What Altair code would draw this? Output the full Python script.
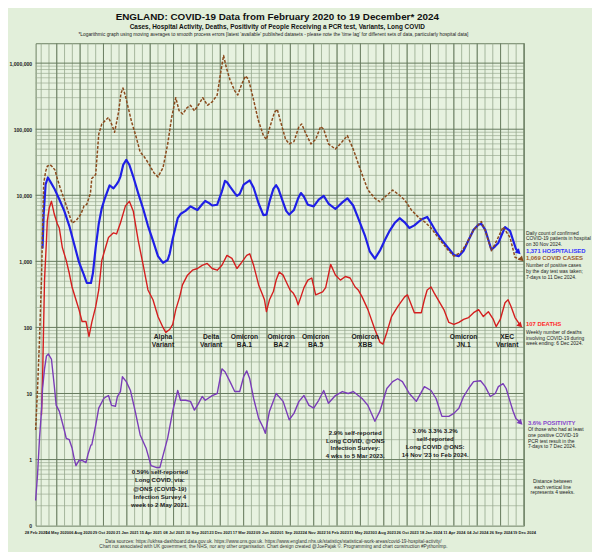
import altair as alt
import pandas as pd

FONT = "Liberation Sans"
PAGE_BG = "#e2efda"
PLOT_BG = "#e7f2e0"
TXT = "#1c1c1c"

# ---------------- data ----------------
hospital = [
    ("2020-03-24", 1560), ("2020-03-28", 5200), ("2020-04-04", 14600), ("2020-04-12", 18600),
    ("2020-04-22", 15800), ("2020-05-05", 12700), ("2020-05-23", 8700), ("2020-06-10", 5800),
    ("2020-06-28", 3450), ("2020-07-15", 1860), ("2020-08-02", 970), ("2020-08-20", 620),
    ("2020-08-30", 470), ("2020-09-14", 470), ("2020-09-21", 660), ("2020-10-01", 1620),
    ("2020-10-12", 3700), ("2020-10-23", 6400), ("2020-11-03", 9000), ("2020-11-20", 14100),
    ("2020-12-04", 12700), ("2020-12-15", 14600), ("2020-12-22", 16200), ("2020-12-29", 19200),
    ("2021-01-08", 29000), ("2021-01-19", 34400), ("2021-01-30", 29000), ("2021-02-13", 19200),
    ("2021-03-03", 10700), ("2021-03-21", 6200), ("2021-04-07", 3450), ("2021-04-25", 2060),
    ("2021-05-13", 1200), ("2021-05-31", 950), ("2021-06-17", 1050), ("2021-06-24", 1300),
    ("2021-07-05", 2200), ("2021-07-23", 4500), ("2021-08-02", 5200), ("2021-08-20", 5800),
    ("2021-09-07", 6800), ("2021-09-21", 6300), ("2021-10-02", 6000), ("2021-10-19", 7300),
    ("2021-10-30", 8200), ("2021-11-13", 7600), ("2021-11-24", 7000), ("2021-12-12", 7200),
    ("2021-12-29", 11500), ("2022-01-09", 16500), ("2022-01-16", 15800), ("2022-01-27", 13500),
    ("2022-02-13", 10800), ("2022-02-21", 9800), ("2022-03-03", 10500), ("2022-03-17", 14500),
    ("2022-04-08", 16800), ("2022-04-22", 13000), ("2022-05-10", 7500), ("2022-05-27", 5000),
    ("2022-06-07", 5100), ("2022-06-18", 8000), ("2022-07-02", 12500), ("2022-07-12", 14200),
    ("2022-07-20", 12500), ("2022-08-06", 7800), ("2022-08-17", 5800), ("2022-08-28", 5100),
    ("2022-09-14", 6000), ("2022-09-29", 9000), ("2022-10-09", 10800), ("2022-10-20", 9500),
    ("2022-11-03", 7200), ("2022-11-24", 6800), ("2022-12-12", 8600), ("2022-12-30", 9800),
    ("2023-01-16", 7500), ("2023-02-10", 6200), ("2023-03-07", 7800), ("2023-03-25", 9000),
    ("2023-04-15", 7000), ("2023-05-03", 4500), ("2023-05-28", 2400), ("2023-06-14", 1400),
    ("2023-07-02", 1100), ("2023-07-20", 1450), ("2023-08-07", 2100), ("2023-08-24", 2900),
    ("2023-09-11", 3800), ("2023-09-29", 4500), ("2023-10-17", 3900), ("2023-11-03", 3200),
    ("2023-11-21", 3500), ("2023-12-16", 4300), ("2024-01-06", 4700), ("2024-01-20", 3800),
    ("2024-02-07", 2800), ("2024-02-28", 2100), ("2024-03-24", 1550), ("2024-04-11", 1250),
    ("2024-04-29", 1200), ("2024-05-16", 1450), ("2024-06-03", 2100), ("2024-06-21", 3000),
    ("2024-07-09", 3600), ("2024-07-19", 3700), ("2024-08-02", 3000), ("2024-08-24", 1500),
    ("2024-09-07", 1700), ("2024-09-18", 1900), ("2024-10-12", 3300), ("2024-10-30", 2900),
    ("2024-11-20", 1550), ("2024-11-30", 1371),
]

cases = [
    ("2020-02-28", 2.8), ("2020-03-06", 12), ("2020-03-13", 66), ("2020-03-20", 520),
    ("2020-03-24", 3000), ("2020-03-28", 15000), ("2020-04-04", 22800), ("2020-04-10", 27500),
    ("2020-04-20", 29000), ("2020-04-28", 27000), ("2020-05-08", 24000), ("2020-05-14", 19000),
    ("2020-05-27", 12700), ("2020-06-10", 8700), ("2020-06-20", 6400), ("2020-07-08", 3800),
    ("2020-07-22", 4100), ("2020-08-09", 5200), ("2020-08-20", 6900), ("2020-08-30", 7300),
    ("2020-09-12", 10700), ("2020-09-17", 17900), ("2020-10-01", 20600), ("2020-10-12", 84000),
    ("2020-10-23", 120000), ("2020-11-16", 151000), ("2020-11-27", 120000), ("2020-12-08", 90000),
    ("2020-12-22", 179000), ("2020-12-31", 350000), ("2021-01-07", 420000), ("2021-01-15", 330000),
    ("2021-01-25", 220000), ("2021-02-07", 130000), ("2021-02-24", 75000), ("2021-03-10", 45000),
    ("2021-03-25", 38000), ("2021-04-10", 30000), ("2021-04-28", 22000), ("2021-05-13", 19000),
    ("2021-05-31", 26000), ("2021-06-17", 60000), ("2021-07-01", 150000), ("2021-07-16", 300000),
    ("2021-07-28", 190000), ("2021-08-10", 170000), ("2021-08-25", 210000), ("2021-09-07", 230000),
    ("2021-09-21", 190000), ("2021-10-10", 250000), ("2021-10-21", 300000), ("2021-11-07", 230000),
    ("2021-11-24", 260000), ("2021-12-12", 330000), ("2021-12-24", 700000), ("2022-01-04", 1300000),
    ("2022-01-14", 850000), ("2022-01-27", 560000), ("2022-02-13", 380000), ("2022-02-24", 330000),
    ("2022-03-10", 480000), ("2022-03-24", 640000), ("2022-04-04", 560000), ("2022-04-20", 300000),
    ("2022-05-08", 140000), ("2022-05-27", 80000), ("2022-06-07", 70000), ("2022-06-20", 110000),
    ("2022-07-06", 180000), ("2022-07-16", 200000), ("2022-07-28", 130000), ("2022-08-15", 70000),
    ("2022-08-28", 60000), ("2022-09-14", 65000), ("2022-10-02", 110000), ("2022-10-12", 120000),
    ("2022-10-27", 85000), ("2022-11-14", 60000), ("2022-12-01", 70000), ("2022-12-19", 110000),
    ("2022-12-30", 100000), ("2023-01-16", 60000), ("2023-02-10", 50000), ("2023-03-07", 65000),
    ("2023-03-25", 80000), ("2023-04-15", 50000), ("2023-05-10", 25000), ("2023-06-07", 12000),
    ("2023-07-02", 9000), ("2023-07-20", 8000), ("2023-08-14", 10000), ("2023-09-04", 12000),
    ("2023-09-29", 10000), ("2023-10-17", 8500), ("2023-11-10", 6000), ("2023-12-09", 4500),
    ("2023-12-27", 4000), ("2024-01-20", 3200), ("2024-02-18", 2200), ("2024-03-20", 1500),
    ("2024-04-11", 1200), ("2024-05-05", 1350), ("2024-05-25", 1800), ("2024-06-21", 3000),
    ("2024-07-19", 4000), ("2024-08-02", 2900), ("2024-08-24", 1450), ("2024-09-07", 1860),
    ("2024-10-05", 3300), ("2024-10-30", 2300), ("2024-11-17", 1150), ("2024-12-11", 1069),
]

deaths = [
    ("2020-03-20", 4.7), ("2020-03-24", 16.7), ("2020-03-31", 520), ("2020-04-07", 2060),
    ("2020-04-10", 4100), ("2020-04-17", 6400), ("2020-04-25", 8100), ("2020-05-05", 5200),
    ("2020-05-16", 3700), ("2020-05-23", 3200), ("2020-06-03", 1620), ("2020-06-17", 1035),
    ("2020-06-28", 660), ("2020-07-08", 409), ("2020-07-22", 262), ("2020-08-02", 186),
    ("2020-08-13", 123), ("2020-08-27", 123), ("2020-09-07", 73), ("2020-09-17", 119),
    ("2020-10-01", 206), ("2020-10-12", 369), ("2020-10-23", 1035), ("2020-11-16", 2300),
    ("2020-12-04", 2700), ("2020-12-15", 2600), ("2020-12-29", 3800), ("2021-01-16", 6900),
    ("2021-01-30", 8100), ("2021-02-13", 5800), ("2021-03-03", 2060), ("2021-03-21", 870),
    ("2021-04-07", 369), ("2021-04-25", 262), ("2021-05-13", 146), ("2021-05-31", 100),
    ("2021-06-10", 84), ("2021-06-24", 93), ("2021-07-05", 111), ("2021-07-16", 186),
    ("2021-07-30", 290), ("2021-08-09", 440), ("2021-08-27", 618), ("2021-09-14", 734),
    ("2021-10-02", 780), ("2021-10-19", 871), ("2021-11-06", 930), ("2021-11-24", 780),
    ("2021-12-12", 734), ("2021-12-29", 871), ("2022-01-16", 1230), ("2022-02-03", 1110),
    ("2022-02-21", 780), ("2022-03-10", 966), ("2022-03-28", 1230), ("2022-04-08", 1300),
    ("2022-04-22", 871), ("2022-05-10", 440), ("2022-05-24", 311), ("2022-05-31", 262),
    ("2022-06-07", 173), ("2022-06-18", 262), ("2022-07-02", 350), ("2022-07-12", 520),
    ("2022-07-23", 690), ("2022-08-06", 618), ("2022-08-17", 490), ("2022-08-31", 369),
    ("2022-09-11", 333), ("2022-09-21", 280), ("2022-09-29", 220), ("2022-10-09", 290),
    ("2022-10-20", 400), ("2022-11-03", 520), ("2022-11-17", 560), ("2022-12-01", 311),
    ("2022-12-26", 345), ("2023-01-06", 400), ("2023-01-24", 900), ("2023-02-10", 620),
    ("2023-02-28", 520), ("2023-03-18", 590), ("2023-04-04", 560), ("2023-04-22", 409),
    ("2023-05-03", 369), ("2023-05-17", 290), ("2023-06-07", 186), ("2023-07-02", 93),
    ("2023-07-20", 60), ("2023-07-31", 56), ("2023-08-14", 84), ("2023-08-31", 146),
    ("2023-09-22", 206), ("2023-10-17", 290), ("2023-10-27", 311), ("2023-11-21", 167),
    ("2023-12-16", 167), ("2023-12-27", 262), ("2024-01-06", 369), ("2024-01-20", 409),
    ("2024-01-31", 333), ("2024-03-06", 186), ("2024-03-24", 119), ("2024-04-11", 111),
    ("2024-04-29", 119), ("2024-05-16", 132), ("2024-06-03", 141), ("2024-06-21", 167),
    ("2024-07-09", 186), ("2024-07-26", 146), ("2024-08-13", 173), ("2024-08-31", 132),
    ("2024-09-10", 103), ("2024-09-25", 132), ("2024-10-12", 236), ("2024-10-23", 262),
    ("2024-11-03", 206), ("2024-11-17", 141), ("2024-12-06", 107),
]

positivity = [
    ("2020-02-28", 0.24), ("2020-03-06", 0.6), ("2020-03-13", 2.1), ("2020-03-20", 5.4),
    ("2020-03-24", 11.9), ("2020-03-31", 23.6), ("2020-04-07", 37), ("2020-04-14", 39.5),
    ("2020-04-25", 33), ("2020-04-28", 25), ("2020-05-05", 13.2), ("2020-05-12", 6.6),
    ("2020-05-23", 5.4), ("2020-05-30", 4.2), ("2020-06-10", 2.8), ("2020-06-17", 2.1),
    ("2020-06-28", 2.0), ("2020-07-08", 1.5), ("2020-07-15", 1.07), ("2020-07-22", 0.81),
    ("2020-08-02", 0.97), ("2020-08-13", 0.97), ("2020-08-27", 0.90), ("2020-09-03", 1.19),
    ("2020-09-14", 1.67), ("2020-09-17", 1.67), ("2020-10-01", 3.3), ("2020-10-12", 6.0),
    ("2020-10-30", 8.4), ("2020-11-09", 9.0), ("2020-11-16", 9.3), ("2020-11-27", 6.6),
    ("2020-12-11", 6.4), ("2020-12-18", 9.0), ("2020-12-29", 10.7), ("2021-01-05", 17.9),
    ("2021-01-19", 15.1), ("2021-02-03", 11.1), ("2021-02-20", 5.4), ("2021-03-10", 2.36),
    ("2021-03-31", 1.5), ("2021-04-18", 0.81), ("2021-05-06", 0.76), ("2021-05-20", 0.76),
    ("2021-05-31", 1.15), ("2021-06-17", 2.13), ("2021-07-05", 5.4), ("2021-07-23", 11.1),
    ("2021-08-02", 7.9), ("2021-08-20", 7.9), ("2021-09-07", 7.6), ("2021-09-21", 5.6),
    ("2021-10-02", 6.6), ("2021-10-19", 9.0), ("2021-10-30", 7.9), ("2021-11-24", 9.3),
    ("2021-12-12", 10.0), ("2021-12-29", 23.6), ("2022-01-09", 21.3), ("2022-01-27", 15.1),
    ("2022-02-13", 10.7), ("2022-03-03", 10.7), ("2022-03-17", 17.9), ("2022-03-28", 22.0),
    ("2022-04-08", 16.7), ("2022-04-22", 8.4), ("2022-05-10", 4.2), ("2022-05-27", 3.0),
    ("2022-06-03", 2.5), ("2022-06-18", 5.4), ("2022-07-12", 10.0), ("2022-08-06", 7.6),
    ("2022-08-28", 4.0), ("2022-09-14", 5.0), ("2022-10-02", 7.6), ("2022-10-20", 9.3),
    ("2022-11-07", 6.6), ("2022-11-24", 6.0), ("2022-12-12", 7.9), ("2022-12-30", 11.1),
    ("2023-01-16", 7.1), ("2023-02-10", 9.3), ("2023-03-07", 10.7), ("2023-03-28", 10.0),
    ("2023-04-15", 10.7), ("2023-05-17", 8.4), ("2023-06-07", 6.6), ("2023-07-02", 3.8),
    ("2023-07-20", 5.4), ("2023-08-14", 11.9), ("2023-09-04", 15.1), ("2023-09-22", 16.7),
    ("2023-10-09", 15.1), ("2023-11-03", 10.0), ("2023-11-28", 7.6), ("2023-12-27", 12.7),
    ("2024-01-20", 11.1), ("2024-02-07", 8.4), ("2024-02-28", 4.5), ("2024-03-24", 4.5),
    ("2024-04-11", 5.0), ("2024-04-29", 6.0), ("2024-05-16", 9.0), ("2024-06-03", 11.9),
    ("2024-06-21", 15.1), ("2024-07-16", 15.6), ("2024-08-02", 12.7), ("2024-08-20", 9.0),
    ("2024-09-07", 10.0), ("2024-09-18", 12.7), ("2024-10-05", 14.1), ("2024-10-16", 11.9),
    ("2024-10-30", 7.6), ("2024-11-10", 5.4), ("2024-11-20", 4.2), ("2024-12-07", 3.6),
]

tick_dates = [(2020, 2, 28), (2020, 5, 14), (2020, 8, 6), (2020, 10, 29), (2021, 1, 21),
              (2021, 4, 15), (2021, 7, 8), (2021, 9, 30), (2021, 12, 23), (2022, 3, 17),
              (2022, 6, 9), (2022, 9, 1), (2022, 11, 24), (2023, 2, 16), (2023, 5, 11),
              (2023, 8, 3), (2023, 10, 26), (2024, 1, 18), (2024, 4, 11), (2024, 7, 4),
              (2024, 9, 26), (2024, 12, 19)]
y_tick_values = [0.1, 1, 10, 100, 1000, 10000, 100000, 1000000]

variant_dates = ["2021-05-31", "2021-11-20", "2022-03-20", "2022-07-30", "2022-12-01",
                 "2023-05-28", "2024-05-16", "2024-10-20"]
variant_line1 = ["Alpha", "Delta", "Omicron", "Omicron", "Omicron", "Omicron", "Omicron", "XEC"]
variant_line2 = ["Variant", "Variant", "BA.1", "BA.2", "BA.5", "XBB", "JN.1", "Variant"]

series_names = ["Hospital", "Cases", "Deaths", "Positivity"]
series_colors = ["#1f1fe6", "#8b4a1c", "#d41e1e", "#7a3cb8"]

# ---------------- scales / axes ----------------
xs = alt.Scale(domain=[alt.DateTime(year=2020, month=2, date=28),
                       alt.DateTime(year=2024, month=12, date=19)], nice=False)
ys = alt.Scale(type="log", domain=[0.1, 2000000], nice=False)

xaxis = alt.Axis(values=[alt.DateTime(year=y, month=m, date=d) for y, m, d in tick_dates],
                 format="%d %b %Y", labelFont=FONT, labelFontSize=4.1, labelFontWeight="bold",
                 labelColor=TXT, labelOverlap=False, labelFlush=False, labelPadding=5,
                 ticks=False, grid=False, domain=False, title=None)
yaxis = alt.Axis(values=y_tick_values,
                 labelExpr="datum.value < 0.5 ? '0' : format(datum.value, ',')",
                 labelFont=FONT, labelFontSize=5.2, labelFontWeight="bold", labelColor=TXT,
                 labelOverlap=False, labelFlush=False, labelPadding=4, ticks=False,
                 grid=False, domain=False, title=None)


def X(field="date:T"):
    return alt.X(field, scale=xs, axis=xaxis)


def Y(field="value:Q"):
    return alt.Y(field, scale=ys, axis=yaxis)


def sdf(pairs):
    return pd.DataFrame({"date": pd.to_datetime([p[0] for p in pairs]),
                         "value": [p[1] for p in pairs]})


layers = []

# grid
vminor = pd.DataFrame({"date": pd.date_range("2020-03-19", "2024-12-19", freq="28D")})
vmajor = pd.DataFrame({"date": pd.date_range("2020-05-14", "2024-12-19", freq="84D")})
hminor = pd.DataFrame({"value": [m * 10.0 ** k for k in range(-1, 7) for m in range(2, 10)
                                 if m * 10.0 ** k < 2000000]})
hmajor = pd.DataFrame({"value": [10.0 ** k for k in range(0, 7)]})

layers.append(alt.Chart(hminor).mark_rule(color="#9aab91", strokeWidth=0.7).encode(y=Y()))
layers.append(alt.Chart(vminor).mark_rule(color="#95a78c", strokeWidth=0.8).encode(x=X()))
layers.append(alt.Chart(vmajor).mark_rule(color="#6d8064", strokeWidth=1).encode(x=X()))
layers.append(alt.Chart(hmajor).mark_rule(color="#667a5d", strokeWidth=1).encode(y=Y()))

# series lines
styles = {
    "Hospital": dict(strokeWidth=2.2),
    "Cases": dict(strokeWidth=1.5, strokeDash=[3, 1.6]),
    "Deaths": dict(strokeWidth=1.4),
    "Positivity": dict(strokeWidth=1.4),
}
data_map = {"Hospital": hospital, "Cases": cases, "Deaths": deaths, "Positivity": positivity}
for name, col in zip(series_names, series_colors):
    layers.append(alt.Chart(sdf(data_map[name])).mark_line(color=col, strokeJoin="round",
                                                            **styles[name]).encode(x=X(), y=Y()))
    end = sdf(data_map[name][-1:])
    layers.append(alt.Chart(end).mark_point(shape="triangle-right", angle=45, filled=True,
                                            size=38, color=col, opacity=1).encode(x=X(), y=Y()))

one = pd.DataFrame({"k": [0]})


def text_line(t, x, y, size, weight="normal", color=TXT, align="left"):
    # x, y in page pixels; plot origin sits at (36, 40)
    return alt.Chart(one).mark_text(text=t, align=align, baseline="middle", fontSize=size,
                                    fontWeight=weight, color=color, font=FONT).encode(
        x=alt.value(x - 36), y=alt.value(y - 40))


def block(lines, x, y0, lh, size, weight="normal", color=TXT, align="left"):
    return [text_line(t, x, y0 + i * lh, size, weight, color, align) for i, t in enumerate(lines)]


# variant labels (positioned on the date axis)
vdf = pd.DataFrame({"date": pd.to_datetime(variant_dates), "l1": variant_line1, "l2": variant_line2})
for fld, py in (("l1", 338), ("l2", 345.5)):
    layers.append(alt.Chart(vdf).mark_text(align="center", baseline="middle", fontSize=6.8,
                                           fontWeight="bold", color=TXT, font=FONT).encode(
        x=X(), y=alt.value(py - 40), text=f"{fld}:N"))

# titles
layers.append(text_line("ENGLAND: COVID-19 Data from February 2020 to 19 December* 2024",
                        281, 13, 10, "bold", "#111", "center"))
layers.append(text_line("Cases, Hospital Activity, Deaths, Positivity of People Receiving a PCR test, "
                        "Variants, Long COVID", 281, 23.5, 6.5, "bold", "#111", "center"))
layers.append(text_line("*Logarithmic graph using moving averages to smooth process errors [latest "
                        "'available' published datasets - please note the 'time lag' for different "
                        "sets of data, particularly hospital data]", 277, 32, 4.9, "normal", "#222",
                        "center"))

# right-hand notes
layers += block(["Daily count of confirmed", "COVID-19 patients in hospital", "on 30 Nov 2024."],
                533, 232, 5.8, 5)
layers.append(text_line("1,371 HOSPITALISED", 533, 251, 6, "bold", "#3535ff"))
layers.append(text_line("1,069 COVID CASES", 533, 258, 6, "bold", "#9b5a2b"))
layers += block(["Number of positive cases", "by the day test was taken;", "7-days to 11 Dec 2024."],
                533, 265, 5.8, 5)
layers.append(text_line("107 DEATHS", 533, 325, 6, "bold", "#ff2a2a"))
layers += block(["Weekly number of deaths", "involving COVID-19 during", "week ending: 6 Dec 2024."],
                533, 332.7, 5.7, 5)
layers.append(text_line("3.6% POSITIVITY", 535, 425, 6, "bold", "#8748cc"))
layers += block(["Of those who had at least", "one positive COVID-19", "PCR test result in the",
                 "7-days to 7 Dec 2024."], 535, 431, 5.9, 5)
layers += block(["Distance between", "each vertical line", "represents 4 weeks."],
                560, 484, 5.7, 5, align="center")

# Long COVID notes
layers += block(["0.59% self-reported", "Long COVID, via:", "@ONS (COVID-19)", "Infection Survey 4",
                 "week to 2 May 2021."], 162, 475, 8.2, 6.2, "bold", "#222", "center")
layers += block(["2.9% self-reported", "Long COVID, @ONS", "Infection Survey:", "4 wks to 5 Mar 2023."],
                360, 435, 7.9, 6.2, "bold", "#222", "center")
layers += block(["3.0% 3.3% 3.2%", "self-reported", "Long COVID @ONS:", "14 Nov '23 to Feb 2024."],
                441, 433, 8.0, 6.2, "bold", "#222", "center")

# footer
layers.append(text_line("Data sources: https://ukhsa-dashboard.data.gov.uk.  https://www.ons.gov.uk.  "
                        "https://www.england.nhs.uk/statistics/statistical-work-areas/covid-19-hospital-activity/",
                        277, 545.5, 4.8, "normal", "#333", "center"))
layers.append(text_line("Chart not associated with UK government, the NHS, nor any other organisation.   "
                        "Chart design created @JoePajak \u00a9. Programming and chart construction #PythonImp.",
                        277, 551, 4.8, "normal", "#333", "center"))

chart = alt.layer(*layers).properties(
    width=495, height=489, background=PAGE_BG,
    padding={"left": 28, "top": 32, "right": 69, "bottom": 23},
    autosize=alt.AutoSizeParams(type="none"),
).configure_view(fill=PLOT_BG, stroke="#6b7e62", strokeWidth=1)

chart.save("out.html", embed_options={"renderer": "svg", "actions": False})
